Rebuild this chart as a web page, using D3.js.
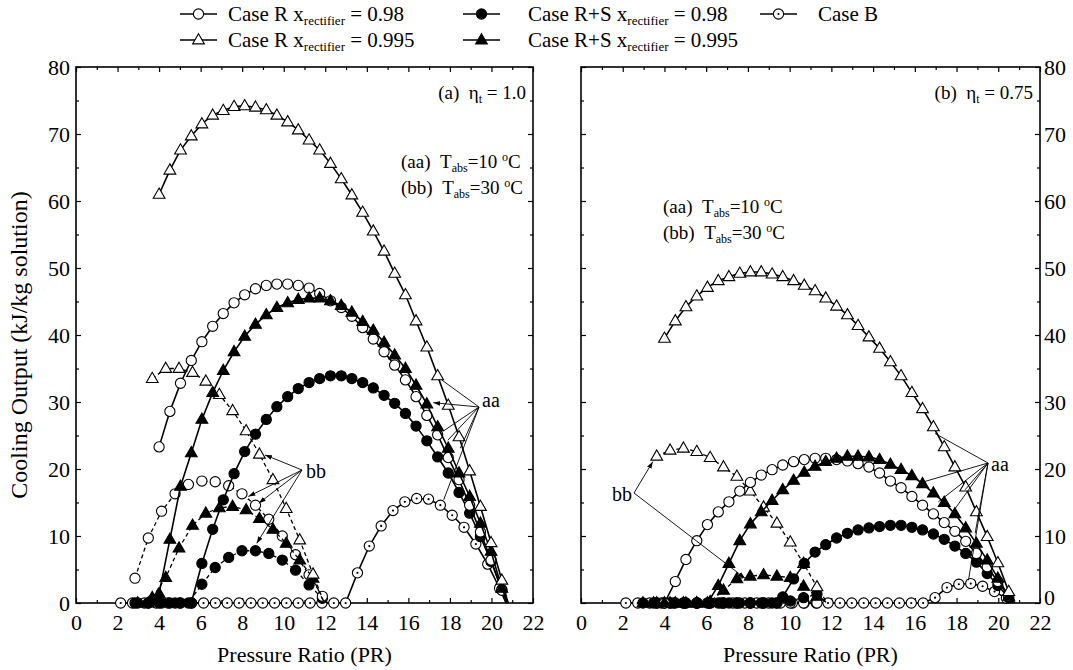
<!DOCTYPE html>
<html><head><meta charset="utf-8">
<script src="https://cdn.jsdelivr.net/npm/d3@7"></script>
<style>
body{margin:0;background:#fff}
text{font-family:"Liberation Serif","Times New Roman",serif;fill:#000}
</style>
</head><body><svg id="c" width="1073" height="670"></svg>
<script>
// ---------------- data ----------------
const xMajor = [0,2,4,6,8,10,12,14,16,18,20,22];
const xMinor = [1,3,5,7,9,11,13,15,17,19,21];
const yMajor = [0,10,20,30,40,50,60,70,80];
const yMinor = [5,15,25,35,45,55,65,75];

// PR grids
const gridA  = [4.00,4.52,5.03,5.55,6.06,6.58,7.09,7.61,8.12,8.64,9.16,9.67,10.19,10.70,11.22,11.73,12.25,12.77,13.28,13.80,14.31,14.83,15.34,15.86,16.37,16.89,17.41,17.92,18.44,18.95,19.47,19.98,20.50];
const gridAz = [2.97,3.48,4.00,4.52,5.03,5.55,6.06,6.58,7.09,7.61,8.12,8.64,9.16,9.67,10.19,10.70,11.22,11.73,12.25,12.77,13.28,13.80,14.31,14.83,15.34,15.86,16.37,16.89,17.41,17.92,18.44,18.95,19.47,19.98,20.50];
const gridB  = [2.15,2.72,3.29,3.86,4.43,5.00,5.57,6.14,6.71,7.28,7.85,8.42,8.99,9.56,10.13,10.70,11.27,11.84,12.41,12.98,13.55,14.12,14.69,15.26,15.83,16.40,16.97,17.54,18.11,18.68,19.25,19.82,20.39];
const gridC  = [2.84,3.48,4.12,4.77,5.41,6.06,6.70,7.35,7.99,8.64,9.28,9.93,10.57,11.22,11.86];
const gridD  = [3.67,4.32,4.96,5.61,6.25,6.90,7.54,8.19,8.83,9.48,10.12,10.77,11.41];
const gridE  = [3.63,4.27,4.91,5.55,6.19,6.83,7.47,8.11,8.75,9.39,10.03,10.67,11.31];

// panel (a) eta_t = 1.0
const a_R995_aa  = [61.0,64.6,67.6,69.7,71.5,72.8,73.5,74.1,74.2,74.0,73.6,72.8,71.8,70.6,69.1,67.6,65.6,63.3,60.9,58.3,55.5,52.5,49.2,46.0,42.1,38.2,33.9,29.5,24.8,19.7,14.4,9.0,3.4];
const a_R98_aa   = [23.3,28.6,32.8,36.2,39.0,41.3,43.2,44.8,46.0,46.9,47.4,47.6,47.6,47.4,47.0,46.2,45.1,44.1,42.8,41.1,39.4,37.5,35.5,33.3,30.8,28.0,25.1,21.7,18.4,14.6,10.6,6.4,1.9];
const a_RS995_aa = [0,0,1.4,9.5,17.4,22.4,27.4,31.4,34.7,37.5,39.8,41.6,43.0,44.1,44.8,45.3,45.5,45.5,45.1,44.4,43.4,42.0,40.7,38.9,37.0,35.0,32.5,29.7,26.3,23.1,19.4,15.9,11.9,7.7,2.2];
const a_RS98_aa  = [0,0,0,0,0,0,5.9,11.0,15.4,19.3,22.6,25.2,27.4,29.3,30.8,32.0,32.9,33.5,33.9,33.9,33.5,32.9,32.1,31.0,29.8,28.3,26.4,24.2,21.8,19.4,16.5,13.4,9.9,6.2,2.0];
const a_B        = [0,0,0,0,0,0,0,0,0,0,0,0,0,0,0,0,0,0,0,0,4.5,8.5,11.5,13.8,15.1,15.6,15.5,14.6,13.1,11.3,8.8,5.8,2.2];
const a_R995_bb  = [33.5,35.0,35.0,34.4,33.1,31.1,28.7,25.7,22.2,18.4,14.1,9.4,4.3];
const a_RS995_bb = [0.8,3.8,8.2,11.6,13.4,14.2,14.4,13.9,12.6,11.0,8.9,6.4,3.7];
const a_R98_bb   = [3.7,9.7,13.7,16.3,17.7,18.2,18.1,17.5,16.3,14.6,12.5,10.0,7.2,4.2,1.0];
const a_RS98_bb  = [0,0,0,0,0,2.8,5.3,6.8,7.8,7.8,7.4,6.4,4.9,2.7,0.7];

// panel (b) eta_t = 0.75
const b_R995_aa  = [39.5,42.1,44.2,45.8,47.1,48.1,48.7,49.2,49.4,49.4,49.1,48.7,48.1,47.4,46.6,45.5,44.3,43.0,41.4,39.7,38.0,36.0,33.9,31.4,29.0,26.3,23.3,20.3,17.3,13.6,9.9,6.0,1.7];
const b_R98_aa   = [0,3.2,6.5,9.3,11.7,13.6,15.1,16.7,18.0,19.1,19.9,20.6,21.1,21.4,21.6,21.6,21.4,21.2,20.8,20.3,19.4,18.2,17.2,15.9,14.6,13.3,12.0,10.7,9.2,7.4,5.4,3.2,1.0];
const b_RS995_aa = [0,0,0,0,0,0,0,2.6,5.9,9.3,11.8,13.6,15.3,16.9,18.3,19.5,20.4,21.1,21.6,21.9,21.9,21.8,21.4,20.7,19.9,19.0,17.8,16.4,15.0,13.3,11.2,8.9,6.4,3.7,1.0];
const b_RS98_aa  = [0,0,0,0,0,0,0,0,0,0,0,0,0,0.9,3.6,5.9,7.6,8.7,9.7,10.4,10.9,11.2,11.4,11.6,11.6,11.3,10.9,10.3,9.5,8.5,7.4,6.1,4.4,2.6,0.8];
const b_B        = [0,0,0,0,0,0,0,0,0,0,0,0,0,0,0,0,0,0,0,0,0,0,0,0,0,0,0.8,2.3,2.8,2.9,2.5,1.7,0.7];
const b_R995_bb  = [21.9,22.8,23.1,22.6,21.7,20.3,18.9,16.7,14.3,11.9,9.1,5.9,2.4];
const b_RS995_bb = [0,0,0,0,0.2,1.9,3.6,4.0,4.2,4.0,3.8,2.5,1.0];
const b_R98_bb   = [0,0,0,0,0,0,0,0,0,0,0,0,0];
const b_RS98_bb  = [0,0,0,0,0,0,0,0,0,0,0.3,0.8,1.3];

// PR where each line meets zero after its last marker
const endsA = {R995aa:20.8, R98aa:20.75, RS995aa:20.8, RS98aa:20.8, B:20.7, R995bb:11.95, RS995bb:11.95, R98bb:12.1, RS98bb:12.1};
const endsB = {R995aa:20.8, R98aa:20.7, RS995aa:20.7, RS98aa:20.7, B:20.6, R995bb:11.8, RS995bb:11.8, R98bb:null, RS98bb:11.8};

const legendLabels = [
  {pre:"Case R x", sub:"rectifier", post:" = 0.98", sym:"oc"},
  {pre:"Case R x", sub:"rectifier", post:" = 0.995", sym:"ot"},
  {pre:"Case R+S x", sub:"rectifier", post:" = 0.98", sym:"fc"},
  {pre:"Case R+S x", sub:"rectifier", post:" = 0.995", sym:"ft"},
  {pre:"Case B", sub:"", post:"", sym:"dc"}
];

// ---------------- drawing ----------------
const svg = d3.select("#c");
const Y0 = 603, Y1 = 67;
const yS = d3.scaleLinear().domain([0,80]).range([Y0,Y1]);
const panels = [
  {x:d3.scaleLinear().domain([0,22]).range([76,533]), left:true},
  {x:d3.scaleLinear().domain([0,22]).range([581,1040]), left:false}
];

const defs = svg.append("defs");
defs.append("marker").attr("id","arr").attr("viewBox","0 0 10 10").attr("refX",10).attr("refY",5)
  .attr("markerWidth",7).attr("markerHeight",7).attr("markerUnits","userSpaceOnUse").attr("orient","auto")
  .append("path").attr("d","M0,1.5L10,5L0,8.5Z").attr("fill","#000");

function drawSym(g, type, cx, cy){
  if (type==="oc" || type==="fc" || type==="dc"){
    g.append("circle").attr("cx",cx).attr("cy",cy).attr("r",5.1)
      .attr("fill", type==="fc" ? "#000" : "#fff").attr("stroke","#000").attr("stroke-width",1.1);
    if (type==="dc") g.append("circle").attr("cx",cx).attr("cy",cy).attr("r",1.1).attr("fill","#000");
  } else {
    g.append("path").attr("d", d3.symbol().type(d3.symbolTriangle).size(60)())
      .attr("transform",`translate(${cx},${cy+0.5})`)
      .attr("fill", type==="ft" ? "#000" : "#fff").attr("stroke","#000").attr("stroke-width",1.1);
  }
}

function drawAxes(p){
  const x = p.x, [x0,x1] = x.range();
  const g = svg.append("g");
  const fmt = d => d;
  g.append("g").attr("transform",`translate(0,${Y0})`).call(d3.axisBottom(x).tickValues(xMajor).tickSize(-5).tickPadding(11).tickFormat(fmt));
  g.append("g").attr("transform",`translate(0,${Y0})`).call(d3.axisBottom(x).tickValues(xMinor).tickSize(-3).tickFormat(""));
  g.append("g").attr("transform",`translate(0,${Y1})`).call(d3.axisTop(x).tickValues(xMajor).tickSize(-5).tickFormat(""));
  g.append("g").attr("transform",`translate(0,${Y1})`).call(d3.axisTop(x).tickValues(xMinor).tickSize(-3).tickFormat(""));
  g.append("g").attr("transform",`translate(${x0},0)`).call(d3.axisLeft(yS).tickValues(yMajor).tickSize(-5).tickPadding(6).tickFormat(p.left?fmt:""));
  g.append("g").attr("transform",`translate(${x0},0)`).call(d3.axisLeft(yS).tickValues(yMinor).tickSize(-3).tickFormat(""));
  const r = g.append("g").attr("transform",`translate(${x1},0)`).call(d3.axisRight(yS).tickValues(yMajor).tickSize(-5).tickPadding(4).tickFormat(p.left?"":fmt));
  g.append("g").attr("transform",`translate(${x1},0)`).call(d3.axisRight(yS).tickValues(yMinor).tickSize(-3).tickFormat(""));
  g.selectAll(".domain").remove();
  g.selectAll(".tick line").attr("stroke-width",1.2);
  g.selectAll("text").attr("font-size",22);
  r.selectAll(".tick").filter(d=>d===0).select("text").attr("dy","0.05em");
  g.append("rect").attr("x",x0).attr("y",Y1).attr("width",x1-x0).attr("height",Y0-Y1)
    .attr("fill","none").attr("stroke","#000").attr("stroke-width",1.6);
}

function drawSeries(p, pr, val, end, sym, dashed){
  const x = p.x;
  const pts = pr.map((d,i)=>[d, val[i]]);
  const linePts = end==null ? pts : pts.concat([[end,0]]);
  const g = svg.append("g");
  g.append("path").datum(linePts)
    .attr("d", d3.line().x(d=>x(d[0])).y(d=>yS(d[1])))
    .attr("fill","none").attr("stroke","#000")
    .attr("stroke-width", dashed?1.3:1.6)
    .attr("stroke-dasharray", dashed?"4,3":null);
  pts.forEach(d=>drawSym(g, sym, x(d[0]), yS(d[1])));
}

panels.forEach(drawAxes);

const pa = panels[0], pb = panels[1];
drawSeries(pa, gridB, a_B, endsA.B, "dc", false);
drawSeries(pa, gridC, a_RS98_bb, endsA.RS98bb, "fc", true);
drawSeries(pa, gridC, a_R98_bb, endsA.R98bb, "oc", true);
drawSeries(pa, gridD, a_RS995_bb, endsA.RS995bb, "ft", true);
drawSeries(pa, gridD, a_R995_bb, endsA.R995bb, "ot", true);
drawSeries(pa, gridAz, a_RS98_aa, endsA.RS98aa, "fc", false);
drawSeries(pa, gridA, a_R98_aa, endsA.R98aa, "oc", false);
drawSeries(pa, gridAz, a_RS995_aa, endsA.RS995aa, "ft", false);
drawSeries(pa, gridA, a_R995_aa, endsA.R995aa, "ot", false);

drawSeries(pb, gridB, b_B, endsB.B, "dc", false);
drawSeries(pb, gridE, b_R98_bb, endsB.R98bb, "oc", true);
drawSeries(pb, gridE, b_RS98_bb, endsB.RS98bb, "fc", true);
drawSeries(pb, gridE, b_RS995_bb, endsB.RS995bb, "ft", true);
drawSeries(pb, gridE, b_R995_bb, endsB.R995bb, "ot", true);
drawSeries(pb, gridAz, b_RS98_aa, endsB.RS98aa, "fc", false);
drawSeries(pb, gridA, b_R98_aa, endsB.R98aa, "oc", false);
drawSeries(pb, gridAz, b_RS995_aa, endsB.RS995aa, "ft", false);
drawSeries(pb, gridA, b_R995_aa, endsB.R995aa, "ot", false);

// annotation leader lines (origin in px, targets in data coords)
function leaders(p, ox, oy, targets){
  const g = svg.append("g");
  targets.forEach(t=>{
    g.append("line").attr("x1",ox).attr("y1",oy).attr("x2",p.x(t[0])).attr("y2",yS(t[1]))
      .attr("stroke","#000").attr("stroke-width",0.9)
      .attr("marker-end", t[2] ? "url(#arr)" : null);
  });
}
leaders(pa, 479, 407, [[17.6,33.3],[17.2,29.9,1],[17.7,25.7],[17.9,24.3],[18.5,23.1],[17.7,15.4]]);
leaders(pa, 302, 470, [[9.1,22.1,1],[8.3,15.9,1],[8.8,14.9,1],[8.7,8.9,1]]);
leaders(pb, 988, 463, [[16.97,25.3],[16.33,18.0],[17.13,15.1],[17.77,13.4],[18.41,16.9],[18.89,10.4],[18.57,3.4]]);
leaders(pb, 634, 493, [[3.44,21.1,1],[7.86,3.7,1]]);

function label(x, y, txt, size, anchor){
  return svg.append("text").attr("x",x).attr("y",y).attr("font-size",size||20)
    .attr("text-anchor",anchor||"start").text(txt);
}
label(482, 407, "aa", 20);
label(306, 478, "bb", 20);
label(991, 471, "aa", 20);
label(612, 501, "bb", 20);

function eta(x, y, tag, v){
  const t = svg.append("text").attr("x",x).attr("y",y).attr("font-size",19).attr("text-anchor","end");
  t.append("tspan").text(tag + "\u00a0\u00a0\u03b7");
  t.append("tspan").attr("font-size",12).attr("dy",4).text("t");
  t.append("tspan").attr("dy",-4).text(" = " + v);
}
eta(526, 99, "(a)", "1.0");
eta(1033, 99, "(b)", "0.75");

function tabs(x, y, tag, v){
  const t = svg.append("text").attr("x",x).attr("y",y).attr("font-size",19);
  t.append("tspan").text(tag + "\u00a0\u00a0T");
  t.append("tspan").attr("font-size",12).attr("dy",4).text("abs");
  t.append("tspan").attr("dy",-4).text("=" + v + " ");
  t.append("tspan").attr("font-size",12).attr("dy",-7).text("o");
  t.append("tspan").attr("dy",7).text("C");
}
tabs(401, 168, "(aa)", "10");
tabs(401, 194, "(bb)", "30");
tabs(663, 213, "(aa)", "10");
tabs(663, 239, "(bb)", "30");

// axis titles
svg.append("text").attr("x",304.5).attr("y",662).attr("font-size",22).attr("text-anchor","middle").text("Pressure Ratio (PR)");
svg.append("text").attr("x",810.5).attr("y",662).attr("font-size",22).attr("text-anchor","middle").text("Pressure Ratio (PR)");
svg.append("text").attr("transform","translate(27,345) rotate(-90)").attr("font-size",24).attr("text-anchor","middle").text("Cooling Output (kJ/kg solution)");

// legend
const legPos = [[180,14,228],[180,40,228],[463,14,528],[463,40,528],[760,14,818]];
legendLabels.forEach((L,i)=>{
  const [lx,ly,tx] = legPos[i];
  const g = svg.append("g");
  g.append("line").attr("x1",lx).attr("x2",lx+37).attr("y1",ly).attr("y2",ly).attr("stroke","#000").attr("stroke-width",1.6);
  drawSym(g, L.sym, lx+18.5, ly);
  const t = g.append("text").attr("x",tx).attr("y",ly+7).attr("font-size",21);
  t.append("tspan").text(L.pre);
  if (L.sub){
    t.append("tspan").attr("font-size",13).attr("dy",4).text(L.sub);
    t.append("tspan").attr("dy",-4).text(L.post);
  }
});
</script></body></html>
